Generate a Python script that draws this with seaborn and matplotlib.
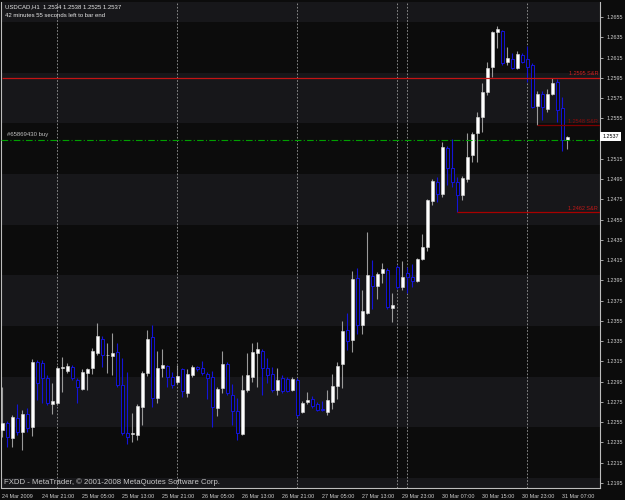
import numpy as np
import pandas as pd
import matplotlib
matplotlib.use('Agg')
import matplotlib.pyplot as plt
import matplotlib.transforms as mtransforms
import seaborn as sns

# --- Data: USDCAD H1 candles, 24 Mar 13:00 -> 31 Mar 08:00 (2009) ---
opens = [
    1.2247, 1.2254, 1.2239, 1.2259, 1.2245, 1.2263, 1.2250, 1.2314, 1.2313, 1.2299,
    1.2273, 1.2274, 1.2308, 1.2306, 1.2309, 1.2297, 1.2288, 1.2304, 1.2308, 1.2323,
    1.2337, 1.2321, 1.2320, 1.2324, 1.2292, 1.2244, 1.2243, 1.2242, 1.2270, 1.2304,
    1.2339, 1.2279, 1.2308, 1.2310, 1.2300, 1.2295, 1.2307, 1.2284, 1.2302, 1.2309,
    1.2308, 1.2303, 1.2300, 1.2269, 1.2289, 1.2312, 1.2282, 1.2266, 1.2243, 1.2287,
    1.2300, 1.2323, 1.2325, 1.2308, 1.2303, 1.2287, 1.2299, 1.2298, 1.2287, 1.2297,
    1.2265, 1.2275, 1.2278, 1.2273, 1.2268, 1.2265, 1.2275, 1.2291, 1.2312, 1.2346,
    1.2336, 1.2397, 1.2351, 1.2363, 1.2399, 1.2389, 1.2402, 1.2405, 1.2368, 1.2408,
    1.2388, 1.2402, 1.2398, 1.2394, 1.2416, 1.2428, 1.2473, 1.2492, 1.2480, 1.2526,
    1.2506, 1.2492, 1.2479, 1.2495, 1.2519, 1.2540, 1.2556, 1.2581, 1.2606, 1.2640,
    1.2641, 1.2611, 1.2614, 1.2605, 1.2617, 1.2614, 1.2608, 1.2567, 1.2579, 1.2564,
    1.2579, 1.2591, 1.2565, 1.2534]
highs = [
    1.2290, 1.2256, 1.2262, 1.2273, 1.2267, 1.2269, 1.2317, 1.2316, 1.2316, 1.2302,
    1.2294, 1.2310, 1.2319, 1.2313, 1.2311, 1.2299, 1.2307, 1.2308, 1.2328, 1.2353,
    1.2340, 1.2333, 1.2343, 1.2333, 1.2318, 1.2305, 1.2264, 1.2273, 1.2306, 1.2346,
    1.2351, 1.2325, 1.2327, 1.2311, 1.2305, 1.2311, 1.2308, 1.2307, 1.2311, 1.2310,
    1.2315, 1.2305, 1.2306, 1.2290, 1.2325, 1.2314, 1.2293, 1.2279, 1.2302, 1.2323,
    1.2333, 1.2334, 1.2327, 1.2318, 1.2309, 1.2308, 1.2302, 1.2300, 1.2300, 1.2299,
    1.2276, 1.2285, 1.2281, 1.2275, 1.2276, 1.2287, 1.2303, 1.2314, 1.2355, 1.2363,
    1.2404, 1.2407, 1.2385, 1.2443, 1.2415, 1.2403, 1.2412, 1.2407, 1.2383, 1.2410,
    1.2414, 1.2408, 1.2411, 1.2417, 1.2441, 1.2475, 1.2495, 1.2497, 1.2532, 1.2528,
    1.2535, 1.2497, 1.2498, 1.2540, 1.2541, 1.2561, 1.2590, 1.2611, 1.2641, 1.2646,
    1.2642, 1.2625, 1.2619, 1.2621, 1.2619, 1.2626, 1.2610, 1.2582, 1.2582, 1.2584,
    1.2595, 1.2594, 1.2576, 1.2538]
lows = [
    1.2240, 1.2230, 1.2230, 1.2242, 1.2228, 1.2245, 1.2241, 1.2277, 1.2274, 1.2272,
    1.2263, 1.2272, 1.2285, 1.2304, 1.2297, 1.2274, 1.2287, 1.2287, 1.2303, 1.2321,
    1.2309, 1.2304, 1.2302, 1.2290, 1.2242, 1.2233, 1.2235, 1.2237, 1.2252, 1.2301,
    1.2270, 1.2274, 1.2300, 1.2290, 1.2289, 1.2293, 1.2280, 1.2280, 1.2300, 1.2306,
    1.2302, 1.2278, 1.2250, 1.2261, 1.2284, 1.2282, 1.2252, 1.2237, 1.2242, 1.2285,
    1.2295, 1.2290, 1.2282, 1.2294, 1.2285, 1.2282, 1.2284, 1.2285, 1.2286, 1.2260,
    1.2264, 1.2273, 1.2269, 1.2266, 1.2266, 1.2262, 1.2268, 1.2278, 1.2289, 1.2326,
    1.2324, 1.2342, 1.2342, 1.2362, 1.2367, 1.2377, 1.2392, 1.2367, 1.2354, 1.2386,
    1.2385, 1.2383, 1.2388, 1.2393, 1.2415, 1.2424, 1.2469, 1.2472, 1.2477, 1.2489,
    1.2487, 1.2462, 1.2474, 1.2492, 1.2512, 1.2512, 1.2541, 1.2578, 1.2596, 1.2624,
    1.2608, 1.2608, 1.2604, 1.2604, 1.2610, 1.2591, 1.2565, 1.2548, 1.2553, 1.2561,
    1.2578, 1.2551, 1.2523, 1.2525]
closes = [
    1.2254, 1.2240, 1.2260, 1.2245, 1.2263, 1.2249, 1.2314, 1.2294, 1.2299, 1.2274,
    1.2276, 1.2308, 1.2309, 1.2310, 1.2299, 1.2290, 1.2305, 1.2307, 1.2325, 1.2340,
    1.2321, 1.2321, 1.2323, 1.2292, 1.2244, 1.2240, 1.2244, 1.2271, 1.2304, 1.2337,
    1.2279, 1.2308, 1.2311, 1.2300, 1.2292, 1.2301, 1.2286, 1.2303, 1.2309, 1.2307,
    1.2304, 1.2299, 1.2270, 1.2288, 1.2312, 1.2284, 1.2266, 1.2244, 1.2287, 1.2302,
    1.2324, 1.2327, 1.2308, 1.2302, 1.2287, 1.2297, 1.2286, 1.2286, 1.2298, 1.2262,
    1.2274, 1.2277, 1.2271, 1.2267, 1.2267, 1.2277, 1.2291, 1.2310, 1.2345, 1.2335,
    1.2396, 1.2351, 1.2365, 1.2400, 1.2389, 1.2401, 1.2406, 1.2369, 1.2371, 1.2388,
    1.2398, 1.2398, 1.2394, 1.2416, 1.2428, 1.2474, 1.2493, 1.2480, 1.2527, 1.2506,
    1.2492, 1.2479, 1.2496, 1.2517, 1.2539, 1.2556, 1.2581, 1.2605, 1.2640, 1.2643,
    1.2610, 1.2615, 1.2605, 1.2618, 1.2611, 1.2606, 1.2566, 1.2579, 1.2566, 1.2579,
    1.2590, 1.2563, 1.2534, 1.2537]

time_labels = ['24 Mar 2009', '24 Mar 21:00', '25 Mar 05:00', '25 Mar 13:00', '25 Mar 21:00',
               '26 Mar 05:00', '26 Mar 13:00', '26 Mar 21:00', '27 Mar 05:00', '27 Mar 13:00',
               '29 Mar 23:00', '30 Mar 07:00', '30 Mar 15:00', '30 Mar 23:00', '31 Mar 07:00']
price_ticks = [1.2655, 1.2635, 1.2615, 1.2595, 1.2575, 1.2555, 1.2515, 1.2495, 1.2475,
               1.2455, 1.2435, 1.2415, 1.2395, 1.2375, 1.2355, 1.2335, 1.2315, 1.2295,
               1.2275, 1.2255, 1.2235, 1.2215, 1.2195]
day_separators = [11, 35, 59, 79, 81, 105]   # bar index where a new day starts
zone_bottoms = [1.2150, 1.2250, 1.2350, 1.2450, 1.2550, 1.2650]
sr_levels = [1.2595, 1.2548, 1.2462]
sr_start_bar = [0, 107, 91]
order_price = 1.2534
last_price = 1.2537

df = pd.DataFrame({'open': opens, 'high': highs, 'low': lows, 'close': closes})
df['bar'] = np.arange(len(df))
df['up'] = df['close'] >= df['open']

# --- Style ---
BG = '#0c0c0c'
ZONE = '#17171a'
BLUE = '#1414d8'
WICK_UP = '#9a9a9a'
TXT = '#cfcfcf'

sns.set_theme(style='dark', rc={'axes.facecolor': BG, 'figure.facecolor': BG,
                                'axes.edgecolor': '#bdbdbd', 'grid.color': BG})
plt.rcParams['font.family'] = ['Liberation Sans', 'DejaVu Sans']

fig = plt.figure(figsize=(6.25, 5.0), dpi=100)
ax = fig.add_axes([0.0024, 0.024, 0.9576, 0.972])
ax.set_facecolor(BG)

# alternating 50-pip zones
for zb in zone_bottoms:
    ax.axhspan(zb, zb + 0.005, color=ZONE, lw=0, zorder=0)

# period separators
for d in day_separators:
    ax.axvline(d, color='#9c9c9c', lw=0.6, ls=(0, (2, 2)), zorder=1)

# --- Candles ---
up = df[df['up']]
dn = df[~df['up']]
ax.vlines(up['bar'], up['low'], up['high'], color=WICK_UP, lw=0.8, zorder=2)
ax.vlines(dn['bar'], dn['low'], dn['high'], color=BLUE, lw=0.8, zorder=2)

body_min = 0.00007
up_h = np.maximum(up['close'] - up['open'], body_min)
dn_h = np.maximum(dn['open'] - dn['close'], body_min)
ax.bar(up['bar'], up_h, bottom=up['open'], width=0.6, color='white',
       edgecolor='#dcdcdc', linewidth=0.4, zorder=3)
ax.bar(dn['bar'], dn_h, bottom=dn['close'], width=0.6, color=BG,
       edgecolor=BLUE, linewidth=0.7, zorder=3)

# --- S&R lines ---
sr_colors = ['#c41414', '#7c0000', '#a80000']
sr_text_colors = ['#d02020', '#8a0a0a', '#c01818']
for lvl, start, lc, tc in zip(sr_levels, sr_start_bar, sr_colors, sr_text_colors):
    ax.hlines(lvl, start - 0.1 if start else -0.1, 119.6, color=lc, lw=0.9, zorder=4)
    ax.text(119.2, lvl + 0.00015, f'{lvl:.4f} S&R', color=tc, fontsize=4,
            ha='right', va='bottom', zorder=5)

# open order line
ax.axhline(order_price, color='#00a000', lw=0.8, ls=(0, (6, 2, 1, 2)), zorder=4)
ax.text(0.9, order_price + 0.00025, '#65869430 buy', color='#bdbdbd', fontsize=4.3,
        ha='left', va='bottom', zorder=5)

# --- Axes ---
ax.set_xlim(-0.1, 119.6)
ax.set_ylim(1.21900, 1.26698)
ax.set_xticks(np.arange(0, 113, 8))
ax.set_xticklabels(time_labels, ha='left')
ax.set_yticks(price_ticks)
ax.set_yticklabels([f'{p:.4f}' for p in price_ticks])
ax.yaxis.tick_right()
ax.tick_params(axis='both', colors='#bdbdbd', labelcolor=TXT, labelsize=3.9,
               length=2.5, width=0.6, direction='out', pad=1.5)
ax.tick_params(axis='y', pad=2)
ax.grid(False)
for side in ['left', 'right', 'bottom']:
    ax.spines[side].set_color('#bdbdbd')
    ax.spines[side].set_linewidth(0.8)
ax.spines['top'].set_visible(False)

# current price marker on price scale
trans = mtransforms.blended_transform_factory(ax.transAxes, ax.transData)
ax.text(1.004, last_price, f'{last_price:.4f}', transform=trans, color='black',
        fontsize=3.9, ha='left', va='center', clip_on=False, zorder=6,
        bbox=dict(boxstyle='square,pad=0.35', fc='white', ec='none'))

# header and footer texts
ax.text(0.006, 0.995, 'USDCAD,H1  1.2534 1.2538 1.2525 1.2537', transform=ax.transAxes,
        color='#e6e6e6', fontsize=4.3, ha='left', va='top')
ax.text(0.006, 0.978, '42 minutes 55 seconds left to bar end', transform=ax.transAxes,
        color='#e6e6e6', fontsize=4.3, ha='left', va='top')
ax.text(0.004, 0.004, 'FXDD - MetaTrader, \u00a9 2001-2008 MetaQuotes Software Corp.',
        transform=ax.transAxes, color='#c8c8c8', fontsize=5.6, ha='left', va='bottom')

fig.savefig('out.png', dpi=100, facecolor=BG)
